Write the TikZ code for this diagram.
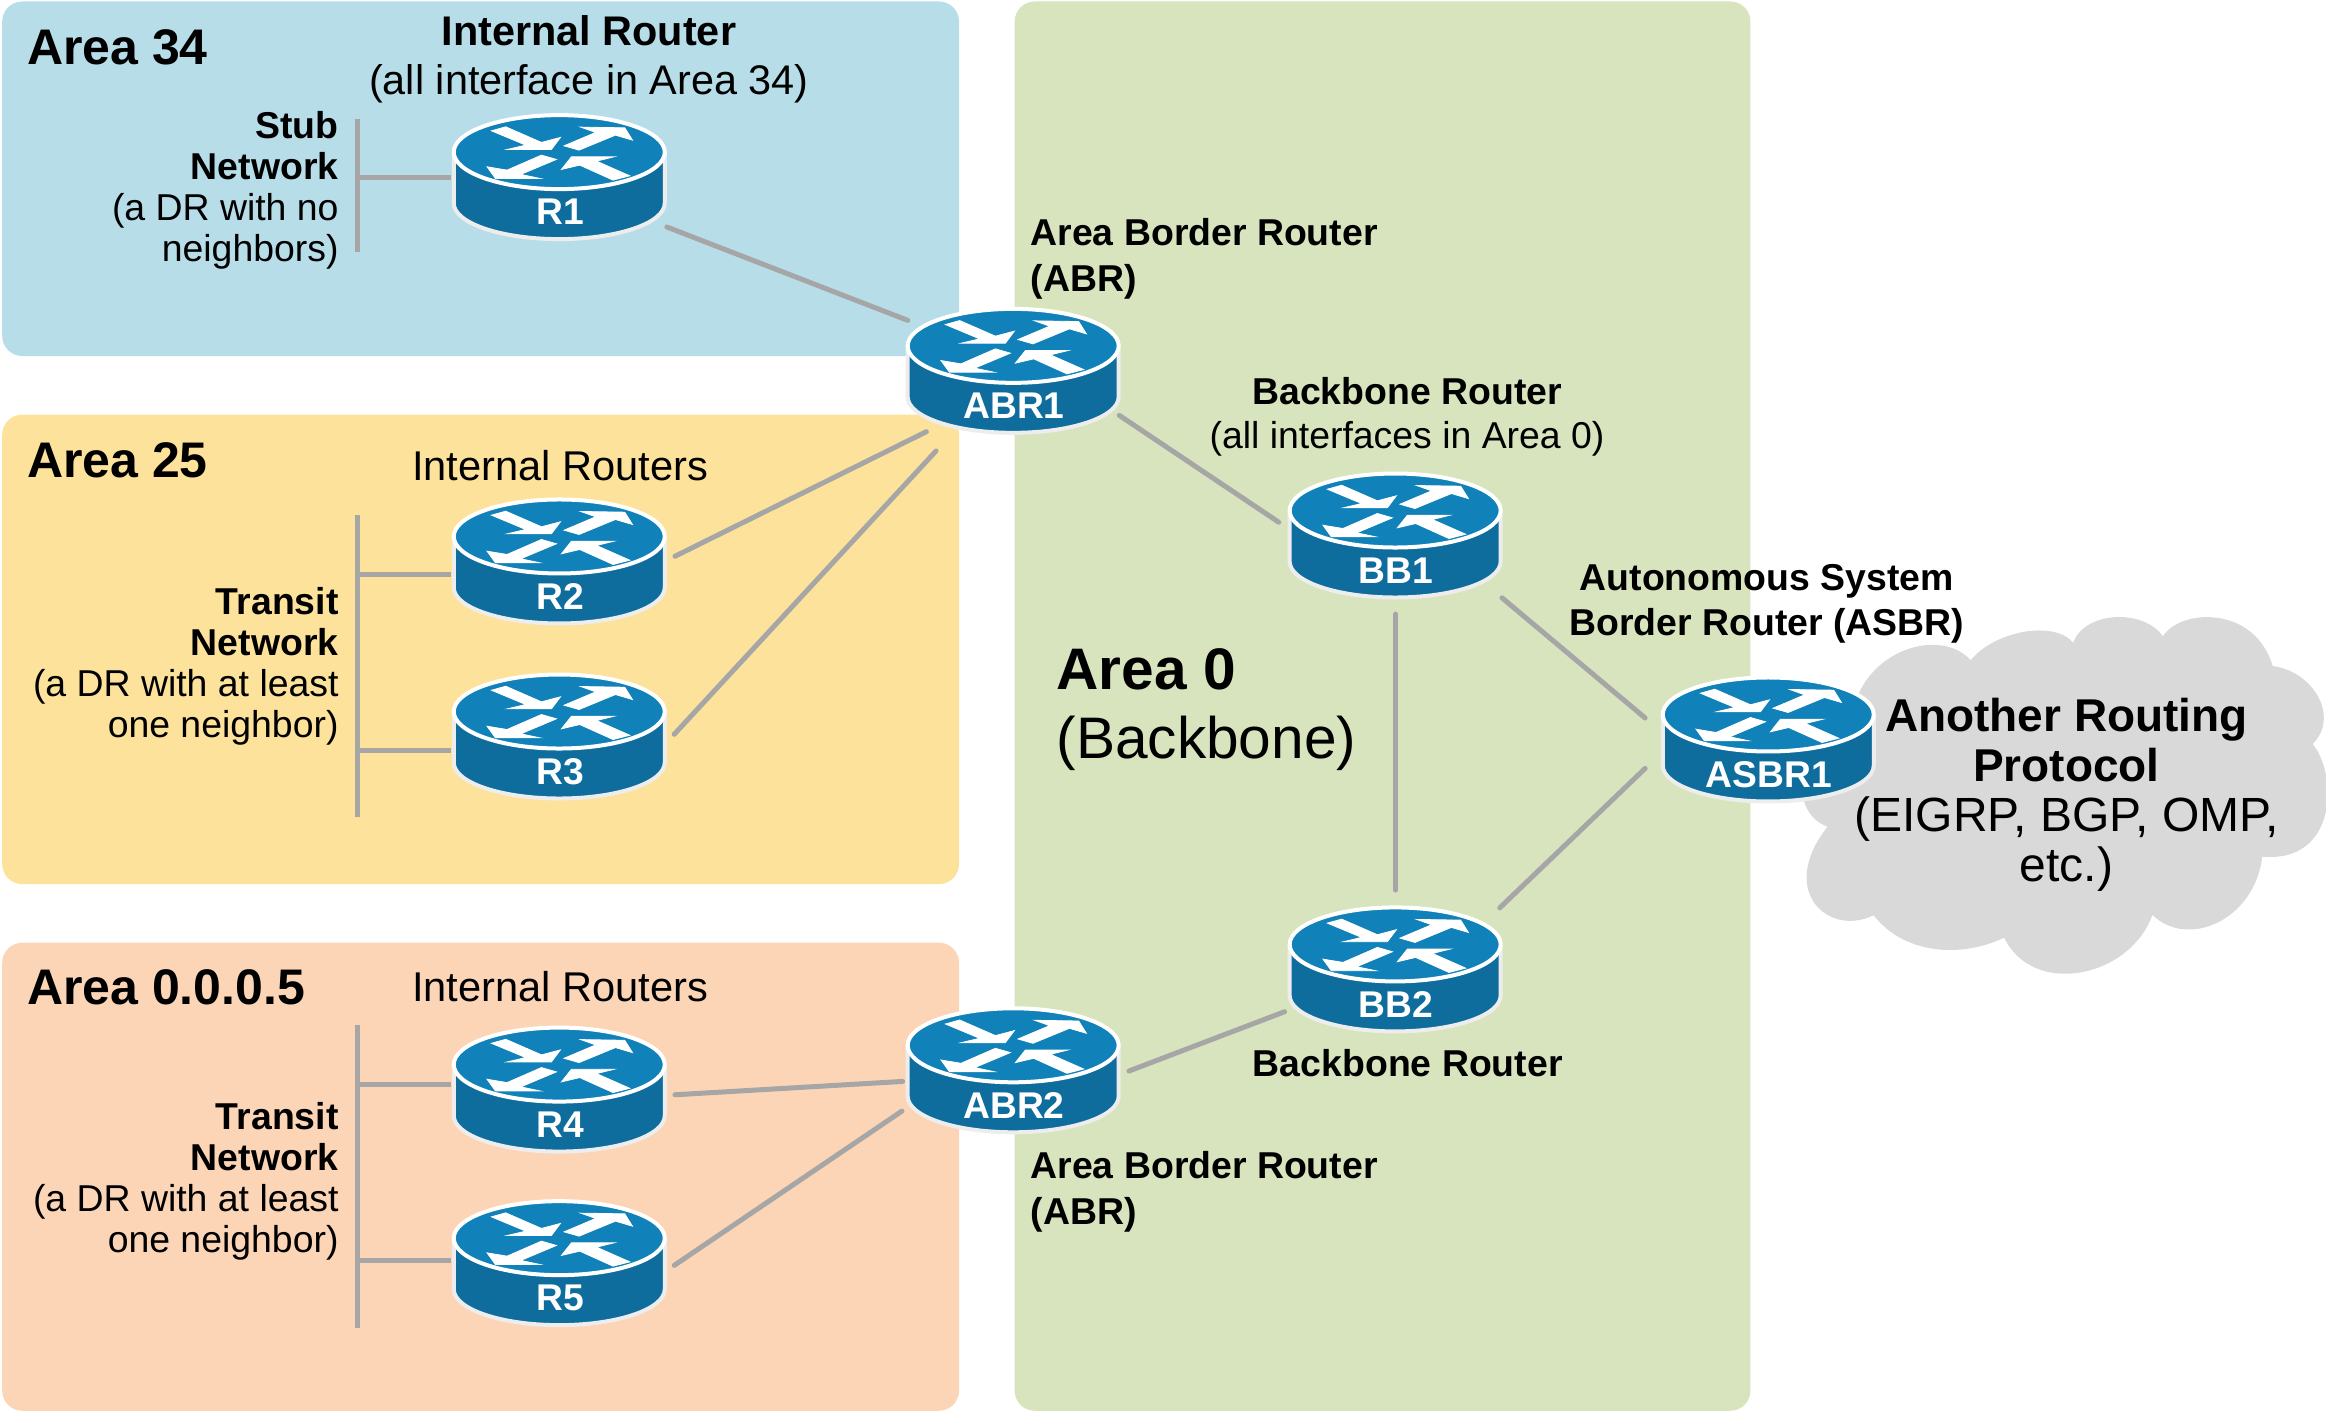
\documentclass[tikz,border=0pt]{standalone}
\usepackage{fontspec}
\setmainfont{Liberation Sans}
\usetikzlibrary{calc}
\definecolor{areablue}{HTML}{B7DDE8}
\definecolor{areayellow}{HTML}{FDE29B}
\definecolor{areaorange}{HTML}{FBD5B6}
\definecolor{areagreen}{HTML}{D8E4BD}
\definecolor{cloudgray}{HTML}{D9D9D9}
\definecolor{linkgray}{HTML}{A6A6A6}
\definecolor{routertop}{HTML}{1181B9}
\definecolor{routerside}{HTML}{0F6D9E}
\newcommand{\fsz}[2]{\fontsize{#1}{#2}\selectfont}
\tikzset{
  area/.style={rounded corners=10pt,draw=none},
  link/.style={draw=linkgray,line width=2.5pt,line cap=round},
  routerbox/.style={minimum width=107.5pt,minimum height=64pt,inner sep=0pt,draw=none},
  routerlabel/.style={text=white,inner sep=0pt,font=\bfseries\fsz{18.6}{20}},
  lab/.style={inner sep=0pt,text=black},
  small/.style={lab,font=\fsz{18.7}{20.5}},
  arrowshape/.style={fill=white,draw=white,line width=0.4pt,line join=miter},
}
\newcommand{\routericon}[2]{%
  \begin{scope}[shift={(#1)},x=0.5pt,y=-0.5pt]
    \fill[routerside,draw=white!93!black,line width=2pt,line join=round]
      (-105.5,-25) -- (-105.5,26) .. controls (-105.5,46) and (-58.3,62) .. (0,62)
      .. controls (58.3,62) and (105.5,46) .. (105.5,26) -- (105.5,-25) -- cycle;
    \fill[routertop,draw=white,line width=2pt] (0,-25) ellipse [x radius=105.5,y radius=37];
    \begin{scope}[yshift=12.5pt]
      \path[arrowshape] (-67.8,-21.3) -- (-53.5,-25.3) -- (-17.8,-9.7) -- (1.2,-14.7) -- (-7.8,-2.7) -- (-51.8,-2.7) -- (-33.5,-7) -- cycle;
      \path[arrowshape] (4.8,-6.3) -- (36.5,-19.7) -- (21.5,-25) -- (65.5,-24.3) -- (73.2,-12) -- (56.2,-17) -- (19.8,-2) -- cycle;
      \path[arrowshape] (-2.8,7.3) -- (-17.8,3) -- (-52.2,18) -- (-72.2,14.7) -- (-63.8,26.3) -- (-19.5,26.3) -- (-38.5,22.3) -- cycle;
      \path[arrowshape] (2.2,17.3) -- (12.2,4.7) -- (54.8,4.7) -- (37.2,9) -- (70.5,23.7) -- (53.8,28) -- (20.5,13) -- cycle;
    \end{scope}
  \end{scope}
  \node[routerlabel] (#1-label) at ($(#1)+(0.5,23.5)$) {#2};%
}
\begin{document}
\begin{tikzpicture}[x=0.74171pt,y=-0.74171pt]
\useasboundingbox (0,0) rectangle (1568,953.2);
% areas
\fill[area,areablue] (1.5,1) rectangle (646.5,240);
\fill[area,areayellow] (1.5,279.5) rectangle (646.5,596);
\fill[area,areaorange] (1.5,635.5) rectangle (646.5,951);
\fill[area,areagreen] (684,1) rectangle (1180,951);
% cloud
\fill[cloudgray] (1397.6,433.3)
  .. controls (1405,412) and (1445,410) .. (1458,429)
  .. controls (1470,410) and (1520,408) .. (1532,449)
  .. controls (1558,452) and (1578,482) .. (1559,501.6)
  .. controls (1576,522) and (1576,582) .. (1525,577.5)
  .. controls (1520,620) and (1475,640) .. (1451,616.8)
  .. controls (1435,660) and (1370,672) .. (1351,632)
  .. controls (1325,645) and (1285,645) .. (1263,617)
  .. controls (1232,632) and (1198,600) .. (1232,557.3)
  .. controls (1198,545) and (1218,480) .. (1253,467.4)
  .. controls (1268,435) and (1310,425) .. (1328.5,445)
  .. controls (1345,425) and (1385,418) .. (1397.6,433.3) -- cycle;
% router anchor nodes
\node[routerbox] (R1) at (377,119.4) {};
\node[routerbox] (ABR1) at (683,250) {};
\node[routerbox] (BB1) at (940.5,361) {};
\node[routerbox] (ASBR1) at (1192,498.5) {};
\node[routerbox] (R2) at (377,378.5) {};
\node[routerbox] (R3) at (377,496.5) {};
\node[routerbox] (R4) at (377,734.5) {};
\node[routerbox] (R5) at (377,851.5) {};
\node[routerbox] (ABR2) at (683,721.5) {};
\node[routerbox] (BB2) at (940.5,653.5) {};
% network buses
\coordinate (busA) at (241,80);
\coordinate (busAe) at (241,170);
\coordinate (busB) at (241,347);
\coordinate (busBe) at (241,551);
\coordinate (busC) at (241,691);
\coordinate (busCe) at (241,895);
\draw[link,line cap=butt] (busA) -- (busAe);
\draw[link,line cap=butt] (busB) -- (busBe);
\draw[link,line cap=butt] (busC) -- (busCe);
\draw[link,line cap=butt] (R1.west) -- (R1.west -| busA);
\draw[link,line cap=butt] ($(R2.west)+(0,8.5)$) -- ($(R2.west -| busB)+(0,8.5)$);
\draw[link,line cap=butt] ($(R3.west)+(0,9.5)$) -- ($(R3.west -| busB)+(0,9.5)$);
\draw[link,line cap=butt] ($(R4.west)+(0,-3.5)$) -- ($(R4.west -| busC)+(0,-3.5)$);
\draw[link,line cap=butt] ($(R5.west)+(0,-1.5)$) -- ($(R5.west -| busC)+(0,-1.5)$);
% links
\draw[link] ($(R1)+(72.5,33.6)$) -- ($(ABR1)+(-71,-34)$);
\draw[link] ($(ABR1)+(-58.5,41)$) -- ($(R2)+(78,-3.5)$);
\draw[link] ($(ABR1)+(-52,54)$) -- ($(R3)+(77.5,-1.5)$);
\draw[link] ($(ABR1)+(71.5,30)$) -- ($(BB1)+(-78.5,-9)$);
\draw[link] ($(BB1)+(72,42)$) -- ($(ASBR1)+(-83,-14.5)$);
\draw[link] ($(BB1)+(0.5,53)$) -- ($(BB2)+(0.5,-53.5)$);
\draw[link] ($(BB2)+(70.5,-41.5)$) -- ($(ASBR1)+(-83,19.5)$);
\draw[link] ($(BB2)+(-74.5,28.5)$) -- ($(ABR2)+(78,0.5)$);
\draw[link] ($(ABR2)+(-74.5,7.5)$) -- ($(R4)+(78,3.5)$);
\draw[link] ($(ABR2)+(-75,27.5)$) -- ($(R5)+(77.5,1.5)$);
% routers
\routericon{R1}{R1}
\routericon{ABR1}{ABR1}
\routericon{BB1}{BB1}
\routericon{ASBR1}{ASBR1}
\routericon{R2}{R2}
\routericon{R3}{R3}
\routericon{R4}{R4}
\routericon{R5}{R5}
\routericon{ABR2}{ABR2}
\routericon{BB2}{BB2}
% labels
\node[lab,anchor=west,font=\bfseries\fsz{25}{28}] (a34) at (18,32) {Area 34};
\node[lab,anchor=west,font=\bfseries\fsz{25}{28}] (a25) at (18,310.5) {Area 25};
\node[lab,anchor=west,font=\bfseries\fsz{25}{28}] (a5) at (18,665.5) {Area 0.0.0.5};
\node[lab,align=center,font=\fsz{20.7}{24.5}] (t1) at (397,40) {\textbf{Internal Router}\\(all interface in Area 34)};
\node[lab,font=\fsz{20.8}{24.5}] (t2) at (377.5,314) {Internal Routers};
\node[lab,font=\fsz{20.8}{24.5}] (t3) at (377.5,665) {Internal Routers};
\node[small,anchor=east,align=right] (t4) at (228.5,128) {\textbf{Stub}\\\textbf{Network}\\(a DR with no\\neighbors)};
\node[small,anchor=east,align=right] (t5) at (228.5,449) {\textbf{Transit}\\\textbf{Network}\\(a DR with at least\\one neighbor)};
\node[small,anchor=east,align=right] (t6) at (228.5,796.5) {\textbf{Transit}\\\textbf{Network}\\(a DR with at least\\one neighbor)};
\node[lab,anchor=west,align=left,font=\bfseries\fsz{18.7}{23}] (t7) at (694.5,174.5) {Area Border Router\\(ABR)};
\node[lab,anchor=west,align=left,font=\bfseries\fsz{18.7}{23}] (t8) at (694.5,803.5) {Area Border Router\\(ABR)};
\node[lab,align=center,font=\fsz{18.7}{22}] (t9) at (948.5,281) {\textbf{Backbone Router}\\(all interfaces in Area 0)};
\node[lab,font=\bfseries\fsz{18.7}{22}] (t10) at (949,717) {Backbone Router};
\node[lab,align=center,font=\bfseries\fsz{18.7}{22.3}] (t11) at (1191,407) {Autonomous System\\Border Router (ASBR)};
\node[lab,anchor=west,align=left,font=\fsz{29.3}{34.5}] (t12) at (712,478.5) {\textbf{Area 0}\\(Backbone)};
\node[lab,align=center,font=\fsz{23}{25}] (t13) at (1393,536) {\textbf{Another Routing}\\\textbf{Protocol}\\{\fsz{24}{25}(EIGRP, BGP, OMP,}\\{\fsz{24}{25}etc.)}};
\end{tikzpicture}
\end{document}
